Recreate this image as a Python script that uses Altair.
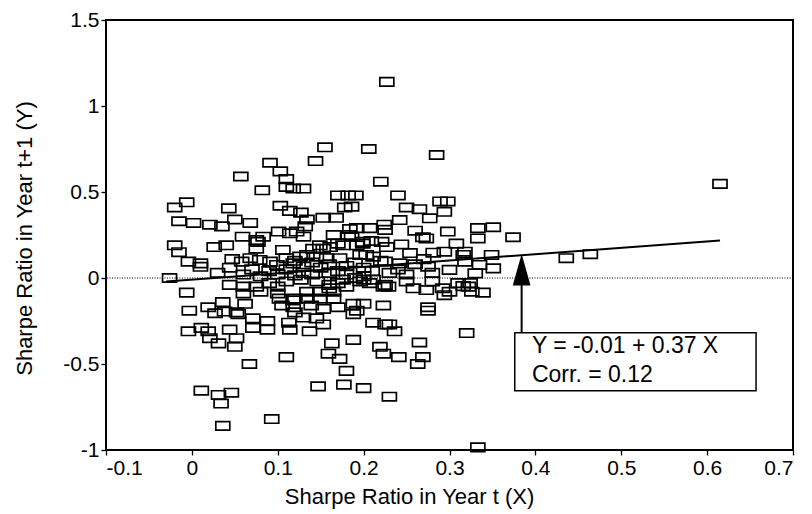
import altair as alt
import pandas as pd

# ---- data ----
pts_x = [
    0.227, 0.155, 0.206, 0.091, 0.144, 0.285, 0.103, 0.110, 0.057, 0.220, 0.615, 0.082, 0.110, 0.118, 0.130,
    -0.006, -0.020, 0.043, 0.103, 0.114, 0.127, 0.170, 0.182, 0.191, 0.178, 0.186, 0.240, 0.250, 0.265, 0.289,
    0.298, 0.294, -0.015, 0.002, 0.021, 0.035, 0.050, 0.068, 0.134, 0.153, 0.168, 0.224, 0.132, 0.277, 0.242,
    0.101, 0.114, 0.059, 0.083, 0.075, 0.165, 0.184, 0.192, 0.207, 0.225, 0.260, 0.269, 0.273, 0.298, 0.333,
    0.351, 0.333, 0.374, 0.122, 0.130, -0.020, -0.015, 0.026, 0.040, 0.075, 0.077, 0.106, 0.149, 0.161, 0.176,
    0.192, 0.199, 0.227, 0.244, 0.308, 0.170, 0.199, 0.209, 0.221, 0.141, 0.153, 0.182, 0.186,
    -0.004, 0.010, 0.010, 0.047, 0.044, 0.058, 0.068, 0.079, 0.091, 0.099, 0.110, 0.126, 0.118, 0.130, 0.134,
    0.145, 0.157, 0.172, 0.196, 0.203, 0.211, 0.225, 0.242, 0.254, 0.281, 0.294, 0.318, 0.316, 0.349, 0.275,
    0.300, 0.318, 0.335, 0.351, 0.330, 0.436, 0.464,
    0.070, 0.090, 0.110, 0.130, 0.150, 0.160, 0.170, 0.180, 0.190, 0.200, 0.210, 0.220, 0.240, 0.260, 0.270,
    0.120, 0.140, 0.060, 0.080, 0.100, 0.120, 0.140, 0.160, 0.180, 0.200, 0.230, 0.250, 0.280, 0.030,
    -0.026, -0.006, 0.044, 0.060, 0.075, 0.102, 0.118, 0.118, 0.134, 0.149, 0.165, 0.134, 0.120, 0.149, 0.165,
    0.229, 0.258, 0.273, 0.292, 0.294, 0.322, 0.190, 0.200, 0.207, 0.223, 0.176, 0.196, 0.211, 0.225, 0.127,
    0.146, 0.160, 0.170, 0.090, 0.100, 0.110, 0.080, 0.100, 0.060, 0.036, 0.062, 0.160, 0.180, 0.250,
    0.280, 0.310, 0.339, 0.326, 0.316, 0.324, 0.300,
    0.019, -0.003, 0.027, 0.038, 0.052, 0.054, -0.004, 0.011, 0.019, 0.021, 0.031, 0.044, 0.052, 0.050, 0.071,
    0.071, 0.088, 0.088, 0.067, 0.110, 0.113, 0.114, 0.137, 0.145, 0.153, 0.163, 0.159, 0.172, 0.180, 0.188,
    0.011, 0.031, 0.046, 0.034, 0.036, 0.093, 0.147, 0.177, 0.200, 0.230, 0.211, 0.225, 0.219, 0.223, 0.241,
    0.188, 0.200, 0.192, 0.188, 0.223, 0.230, 0.236, 0.265, 0.269, 0.263, 0.275, 0.275, 0.320, 0.333, 0.153,
    0.139, 0.105, 0.120, 0.130, 0.170,
]
pts_y = [
    1.14, 0.76, 0.75, 0.67, 0.68, 0.715, 0.62, 0.575, 0.59, 0.56, 0.547, 0.51, 0.53, 0.52, 0.52,
    0.44, 0.41, 0.405, 0.42, 0.39, 0.38, 0.48, 0.48, 0.48, 0.41, 0.415, 0.48, 0.41, 0.40, 0.445,
    0.445, 0.385, 0.33, 0.32, 0.31, 0.30, 0.34, 0.32, 0.34, 0.35, 0.35, 0.31, 0.30, 0.347, 0.337,
    0.27, 0.26, 0.24, 0.24, 0.22, 0.25, 0.285, 0.29, 0.29, 0.28, 0.275, 0.237, 0.23, 0.27, 0.29,
    0.295, 0.23, 0.237, 0.27, 0.24, 0.19, 0.15, 0.18, 0.19, 0.17, 0.21, 0.163, 0.19, 0.18, 0.19,
    0.19, 0.20, 0.18, 0.195, 0.20, 0.20, 0.21, 0.215, 0.21, 0.17, 0.17, 0.25, 0.24,
    0.095, 0.085, 0.065, 0.11, 0.06, 0.095, 0.115, 0.105, 0.095, 0.076, 0.115, 0.124, 0.085, 0.066, 0.134,
    0.124, 0.115, 0.115, 0.134, 0.134, 0.124, 0.095, 0.085, 0.145, 0.147, 0.153, 0.153, 0.134, 0.134, 0.066,
    0.047, 0.095, 0.076, 0.056, 0.027, 0.115, 0.138,
    0.05, 0.04, 0.05, 0.03, 0.06, 0.08, 0.04, 0.07, 0.09, 0.06, 0.04, 0.10, 0.05, 0.08, 0.11,
    0.10, 0.09, 0.02, 0.01, 0.02, 0.015, 0.02, 0.03, 0.02, 0.01, 0.03, 0.02, 0.03, 0.03,
    0.0, -0.085, -0.04, -0.05, -0.05, -0.12, -0.13, -0.17, -0.12, -0.08, -0.08, -0.08, -0.12, -0.12, -0.12,
    -0.05, -0.06, -0.07, -0.06, -0.10, -0.05, 0.0, -0.01, -0.03, -0.05, -0.01, -0.02, -0.01, -0.04, -0.01,
    -0.02, -0.04, -0.03, -0.03, -0.05, -0.02, -0.08, -0.09, -0.09, -0.14, -0.15, -0.06, -0.05, -0.02,
    -0.02, -0.03, -0.085, -0.08, -0.047, -0.03, -0.08,
    -0.17, -0.19, -0.205, -0.195, -0.20, -0.21, -0.31, -0.29, -0.31, -0.35, -0.38, -0.30, -0.35, -0.40, -0.235,
    -0.29, -0.25, -0.30, -0.50, -0.46, -0.26, -0.30, -0.31, -0.235, -0.27, -0.38, -0.44, -0.47, -0.54, -0.36,
    -0.655, -0.68, -0.667, -0.73, -0.86, -0.82, -0.63, -0.62, -0.64, -0.69, -0.26, -0.27, -0.40, -0.44, -0.46,
    -0.15, -0.15, -0.19, -0.21, -0.16, -0.27, -0.31, -0.375, -0.46, -0.50, -0.17, -0.19, -0.32, -0.985, -0.18,
    -0.16, -0.16, -0.20, -0.23, -0.17,
]

line_x = [-0.03, 0.615]
line_y = [-0.021, 0.218]

x_ticks = [-0.1, 0.0, 0.1, 0.2, 0.3, 0.4, 0.5, 0.6, 0.7]
y_ticks = [-1.0, -0.5, 0.0, 0.5, 1.0, 1.5]
x_range = [-0.1, 0.7]
y_range = [-1.0, 1.5]

box_x = [0.376]
box_x2 = [0.657]
box_y = [-0.318]
box_y2 = [-0.655]

arrow_x = [0.384]
arrow_y_start = [-0.318]
arrow_y_end = [0.05]
arrow_head_y = [0.04]

note_lines = ["Y = -0.01 + 0.37 X", "Corr. = 0.12"]
note_x = [0.396, 0.396]
note_y = [-0.434, -0.605]

x_title = "Sharpe Ratio in Year t (X)"
y_title = "Sharpe Ratio in Year t+1 (Y)"

FONT = "Liberation Sans"

pts = pd.DataFrame({"x": pts_x, "y": pts_y})
line_df = pd.DataFrame({"x": line_x, "y": line_y})
box_df = pd.DataFrame({"x": box_x, "x2": box_x2, "y": box_y, "y2": box_y2})
frame_df = pd.DataFrame({"x": [x_range[0]], "x2": [x_range[1]], "y": [y_range[0]], "y2": [y_range[1]]})
arrow_df = pd.DataFrame({"x": arrow_x, "y": arrow_y_start, "y2": arrow_y_end, "yh": arrow_head_y})
note_df = pd.DataFrame({"t": note_lines, "x": note_x, "y": note_y})
zero_df = pd.DataFrame({"y": [0.0]})

lbl = "datum.value == 0 ? '0' : (datum.value < 0 ? '-' : '') + format(abs(datum.value), '~g')"

xs = alt.Scale(domain=x_range, nice=False, zero=False)
ys = alt.Scale(domain=y_range, nice=False, zero=False)

x_axis = alt.Axis(values=x_ticks, labelExpr=lbl, title=x_title, grid=False, domain=False,
                  tickSize=5, tickColor="black", tickWidth=1.3, labelFontSize=21, labelColor="black",
                  labelPadding=2, titleFontSize=22, titleFontWeight="normal", titleColor="black",
                  titleX=303, titleY=53, titleAlign="center", titleBaseline="alphabetic",
                  labelFont=FONT, titleFont=FONT)
y_axis = alt.Axis(values=y_ticks, labelExpr=lbl, title=y_title, grid=False, domain=False,
                  tickSize=5, tickColor="black", tickWidth=1.3, labelFontSize=21, labelColor="black",
                  labelPadding=2, titleFontSize=22, titleFontWeight="normal", titleColor="black",
                  titleX=-82, titleY=218, titleAngle=-90, titleAlign="center", titleBaseline="middle",
                  labelFont=FONT, titleFont=FONT)

rect_shape = "M-1,-0.6L1,-0.6L1,0.6L-1,0.6Z"

points = alt.Chart(pts).mark_point(
    shape=rect_shape, size=196, filled=False, stroke="black", strokeWidth=1.7, opacity=1
).encode(
    x=alt.X("x:Q", scale=xs, axis=x_axis),
    y=alt.Y("y:Q", scale=ys, axis=y_axis),
)

zero = alt.Chart(zero_df).mark_rule(color="black", strokeWidth=1, strokeDash=[1, 1.5]).encode(
    y=alt.Y("y:Q", scale=ys)
)

reg = alt.Chart(line_df).mark_line(color="black", strokeWidth=2).encode(
    x=alt.X("x:Q", scale=xs), y=alt.Y("y:Q", scale=ys)
)

box = alt.Chart(box_df).mark_rect(fill="white", stroke="black", strokeWidth=1.5).encode(
    x=alt.X("x:Q", scale=xs), x2="x2:Q", y=alt.Y("y:Q", scale=ys), y2="y2:Q"
)

frame = alt.Chart(frame_df).mark_rect(fillOpacity=0, stroke="black", strokeWidth=2).encode(
    x=alt.X("x:Q", scale=xs), x2="x2:Q", y=alt.Y("y:Q", scale=ys), y2="y2:Q"
)

arrow = alt.Chart(arrow_df).mark_rule(color="black", strokeWidth=2).encode(
    x=alt.X("x:Q", scale=xs), y=alt.Y("y:Q", scale=ys), y2="y2:Q"
)

head = alt.Chart(arrow_df).mark_point(
    shape="M0,-1L0.56,1L-0.56,1Z", size=729, filled=True, fill="black", stroke="black", opacity=1
).encode(x=alt.X("x:Q", scale=xs), y=alt.Y("yh:Q", scale=ys))

notes = alt.Chart(note_df).mark_text(
    align="left", baseline="alphabetic", fontSize=23, font=FONT, color="black"
).encode(x=alt.X("x:Q", scale=xs), y=alt.Y("y:Q", scale=ys), text="t:N")

chart = alt.layer(zero, points, reg, arrow, head, box, notes, frame).properties(
    width=687, height=430,
    padding={"left": 106, "top": 20, "right": 19, "bottom": 64},
    autosize=alt.AutoSizeParams(type="none"),
    background="white",
).configure(font=FONT).configure_view(stroke="black", strokeWidth=2)

chart.save("out.html", embed_options={"renderer": "svg", "actions": False})
